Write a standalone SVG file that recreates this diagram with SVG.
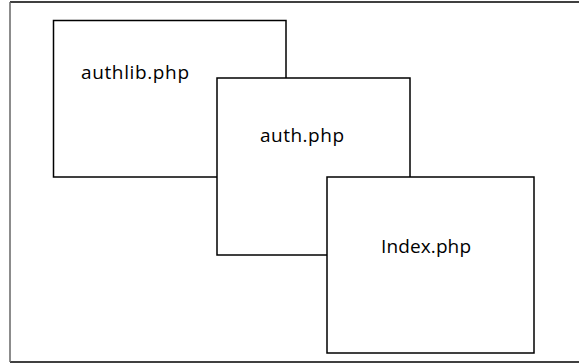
<svg xmlns="http://www.w3.org/2000/svg" width="579" height="364" viewBox="0 0 579 364">
<style>
.box{fill:#fff;stroke:#000;stroke-width:1.5}
.lbl{font-family:"Open Sans","Noto Sans",sans-serif;font-size:19px;fill:#000}
</style>
<rect width="579" height="364" fill="#fff"/>
<g id="frame">
<line x1="10" y1="2" x2="579" y2="2" stroke="#000" stroke-width="1.5"/>
<line x1="10" y1="362" x2="579" y2="362" stroke="#000" stroke-width="1.5"/>
<line x1="10" y1="2" x2="10" y2="362" stroke="#666" stroke-width="1.5"/>
</g>
<g id="authlib">
<rect class="box" x="53.5" y="20.5" width="232.5" height="156.5"/>
<text class="lbl" x="81" y="79" textLength="108" lengthAdjust="spacing">authlib.php</text>
</g>
<g id="auth">
<rect class="box" x="217" y="78" width="193" height="177"/>
<text class="lbl" x="260" y="142" textLength="84" lengthAdjust="spacing">auth.php</text>
</g>
<g id="index">
<rect class="box" x="327" y="177" width="207" height="176"/>
<text class="lbl" x="381" y="253" textLength="90" lengthAdjust="spacing">Index.php</text>
</g>
<g id="connectors"/>
</svg>
